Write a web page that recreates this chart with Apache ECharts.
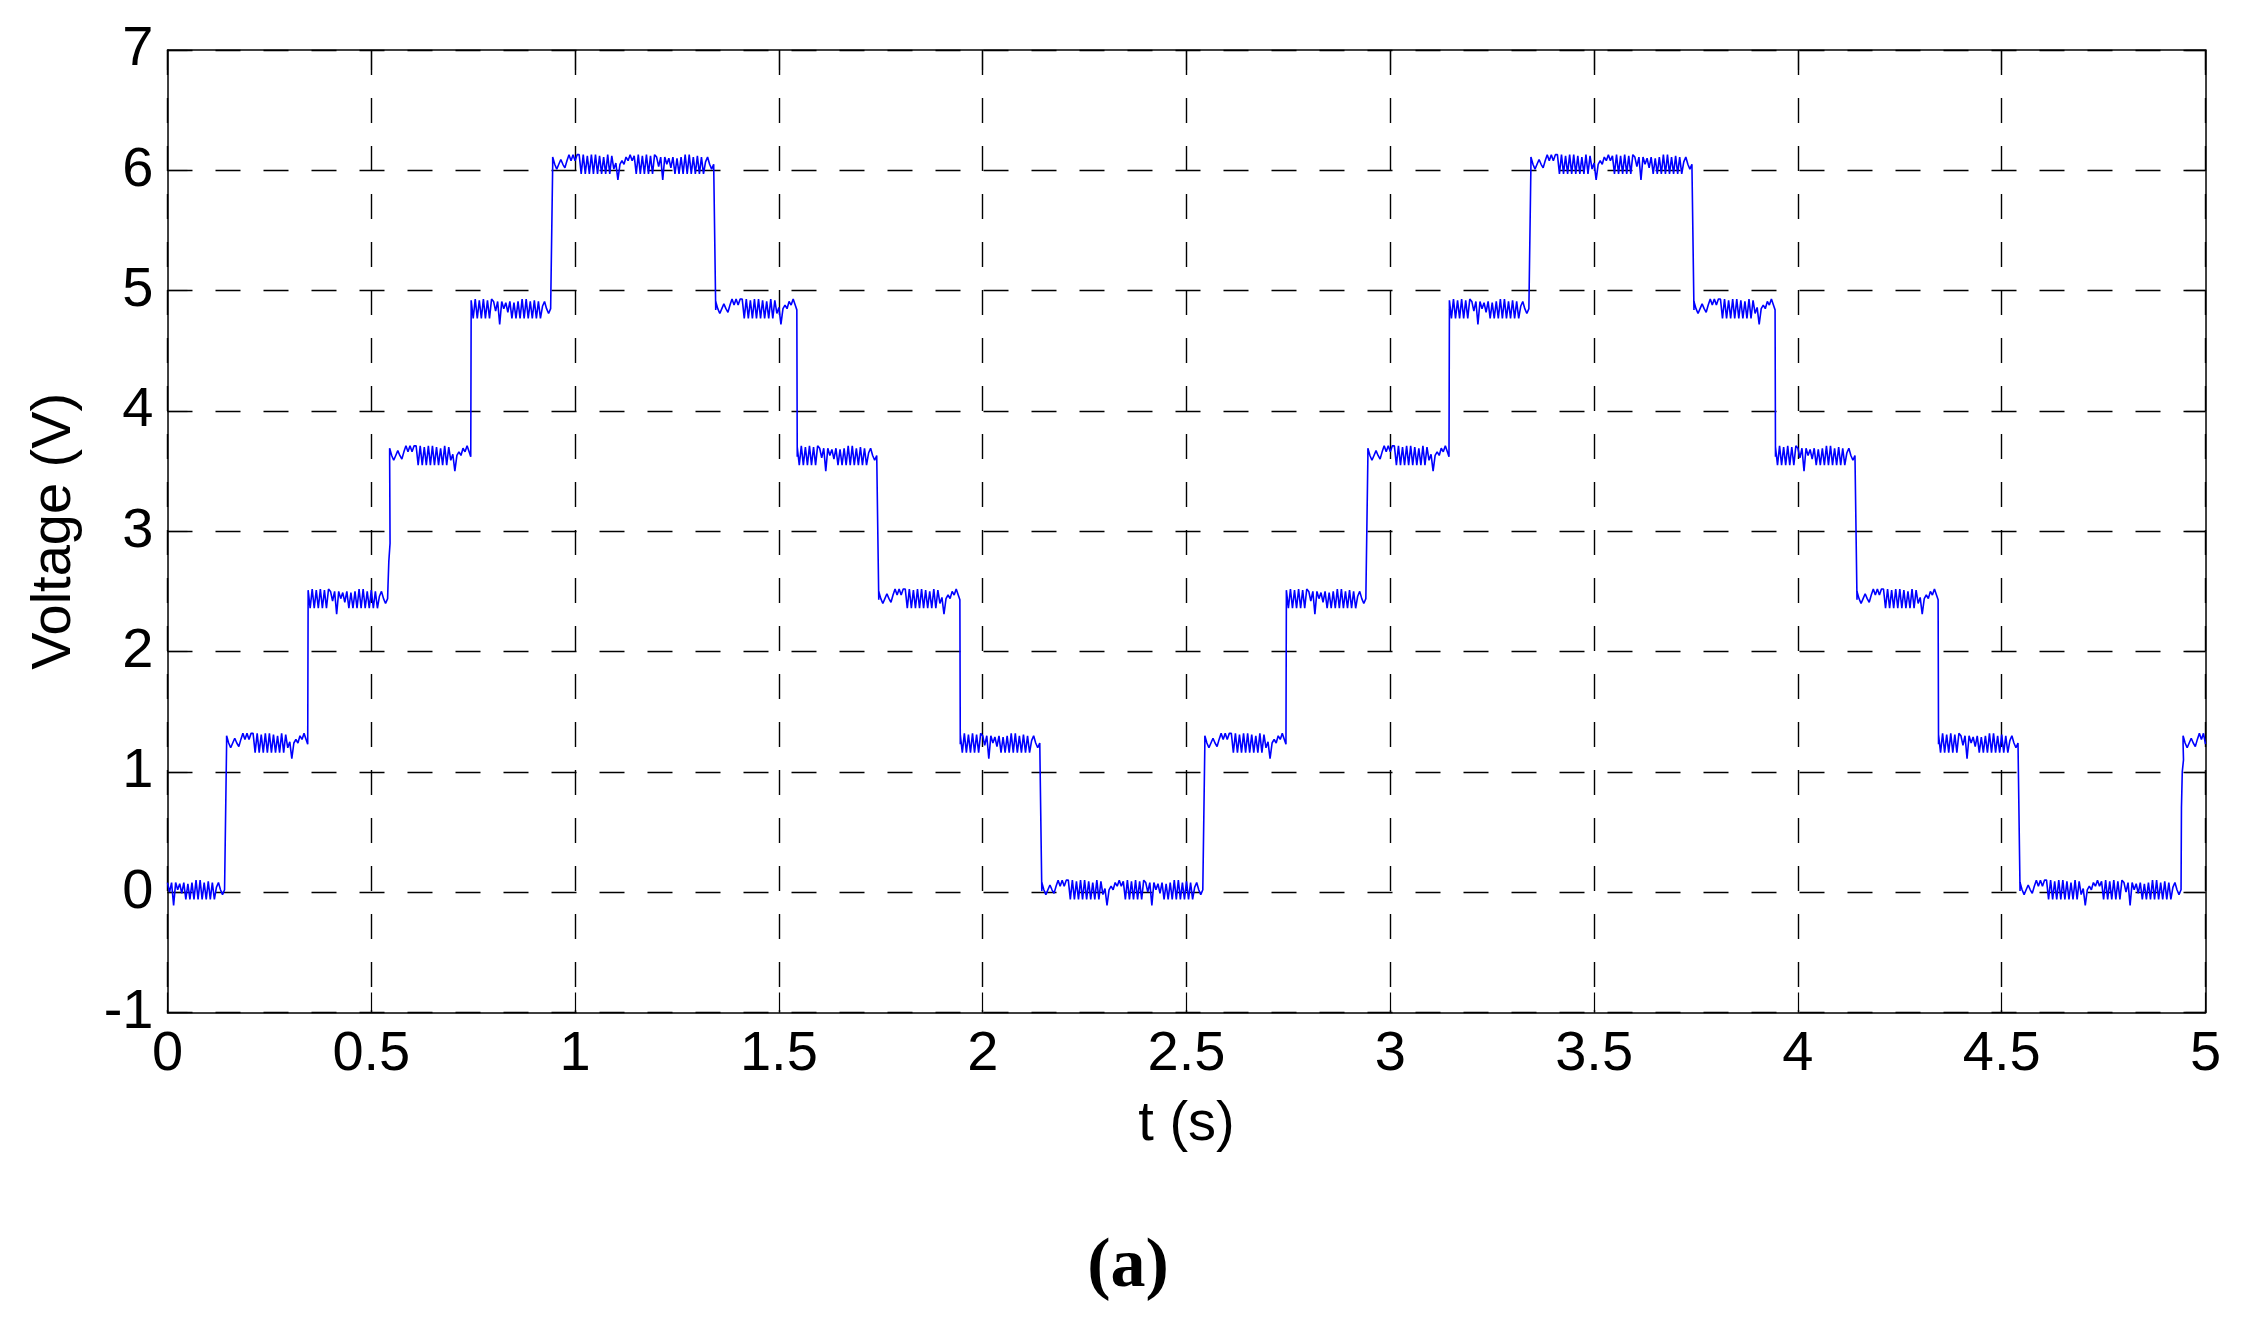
<!DOCTYPE html>
<html>
<head>
<meta charset="utf-8">
<script src="https://cdn.jsdelivr.net/npm/echarts@6/dist/echarts.min.js"></script>
<style>
html,body{margin:0;padding:0;background:#fff;}
#chart{width:2243px;height:1332px;}
</style>
</head>
<body>
<div id="chart"></div>
<script>
// ---- data ----
const xTicks = [0, 0.5, 1, 1.5, 2, 2.5, 3, 3.5, 4, 4.5, 5];
const yTicks = [-1, 0, 1, 2, 3, 4, 5, 6, 7];
// plateau levels (V), in time order
const levels = [0.01, 1.23, 2.43, 3.62, 4.84, 6.04, 4.84, 3.62, 2.43, 1.23, 0.01,
                1.23, 2.43, 3.62, 4.84, 6.04, 4.84, 3.62, 2.43, 1.23, 0.01, 1.23];
// transition times (s) between consecutive plateaus
const stepTimes = [0.145, 0.345, 0.545, 0.745, 0.945, 1.345, 1.545, 1.745, 1.945, 2.145,
                   2.545, 2.745, 2.945, 3.145, 3.345, 3.745, 3.945, 4.145, 4.345, 4.545, 4.945];
// small ramps seen on two rising edges: [transition index, [t, v] points]
const rampEdges = {
  2:  [[0.541, 2.55], [0.543, 2.75], [0.546, 2.90]],
  20: [[4.941, 0.70], [4.943, 1.00], [4.946, 1.10]]
};
const ripple = [7,-1,7,-12,7,1,6,-2,7,-7,6,-7,7,-7,9,-7,9,-7,7,-7,8,-7,7,-7,3,7,1,-3,1,7,
                1,-3,1,5,1,-2,4,9,4,9,4,9,9,-7,9,-7,8,-7,9,-7,9,-7,8,-7,7,-7,9,-7,8,-3,
                2,-12,1,4,1,7,4,9,4,8,-7,9,-7,8,-7,9,-7,8,-7,9];
const sampleDt = 0.005;

// ---- build the series ----
const data = [];
let k = 0;
for (let p = 0; p < levels.length; p++) {
  const t0 = p === 0 ? 0 : stepTimes[p - 1];
  const t1 = p < stepTimes.length ? stepTimes[p] : 5;
  for (let t = t0; t < t1 - 1e-9; t += sampleDt) {
    data.push([t, levels[p] + ripple[k % ripple.length] / 100]);
    k++;
  }
  if (p < stepTimes.length) {
    data.push([t1 - 0.001, levels[p]]);
    if (rampEdges[p]) rampEdges[p].forEach(pt => data.push(pt));
    data.push([t1, levels[p + 1]]);
  } else {
    data.push([5, levels[p]]);
  }
}

const FONT = "'Liberation Sans', Arial, sans-serif";
const axisLineStyle = { color: '#000', width: 1.5 };
const gridDash = { color: '#000', width: 1.4, type: [25, 23] };
const tickStyle = { color: '#000', width: 1.2 };

const chart = echarts.init(document.getElementById('chart'), null, { renderer: 'canvas' });
chart.setOption({
  animation: false,
  backgroundColor: '#fff',
  grid: { left: 167.5, top: 50, right: 37.5, bottom: 319.5, containLabel: false, outerBoundsMode: 'none' },
  xAxis: [{
    type: 'value', min: 0, max: 5, interval: 0.5, position: 'bottom',
    name: 't (s)', nameLocation: 'middle', nameGap: 84,
    nameTextStyle: { fontSize: 56, color: '#000', fontFamily: FONT },
    axisLine: { show: true, onZero: false, lineStyle: axisLineStyle },
    axisTick: { show: true, inside: true, length: 20, lineStyle: tickStyle },
    axisLabel: { show: true, fontSize: 56, color: '#000', fontFamily: FONT, margin: 14,
                 showMinLabel: true, showMaxLabel: true,
                 formatter: v => xTicks.includes(+v.toFixed(2)) ? String(+v.toFixed(2)) : '' },
    splitLine: { show: true, lineStyle: gridDash }
  }, {
    type: 'value', min: 0, max: 5, interval: 0.5, position: 'top',
    axisLine: { show: true, onZero: false, lineStyle: axisLineStyle },
    axisTick: { show: true, inside: true, length: 20, lineStyle: tickStyle },
    axisLabel: { show: false }, splitLine: { show: false }
  }],
  yAxis: [{
    type: 'value', min: -1, max: 7, interval: 1, position: 'left',
    name: 'Voltage (V)', nameLocation: 'middle', nameGap: 85, nameRotate: 90,
    nameTextStyle: { fontSize: 56, color: '#000', fontFamily: FONT },
    axisLine: { show: true, onZero: false, lineStyle: axisLineStyle },
    axisTick: { show: true, inside: true, length: 20, lineStyle: tickStyle },
    axisLabel: { show: true, fontSize: 56, color: '#000', fontFamily: FONT, margin: 14,
                 showMinLabel: true, showMaxLabel: true,
                 formatter: v => yTicks.includes(Math.round(v)) ? String(Math.round(v)) : '' },
    splitLine: { show: true, lineStyle: gridDash }
  }, {
    type: 'value', min: -1, max: 7, interval: 1, position: 'right',
    axisLine: { show: true, onZero: false, lineStyle: axisLineStyle },
    axisTick: { show: true, inside: true, length: 20, lineStyle: tickStyle },
    axisLabel: { show: false }, splitLine: { show: false }
  }],
  series: [{
    type: 'line', xAxisIndex: 0, yAxisIndex: 0,
    data: data, showSymbol: false, symbol: 'none', sampling: null,
    lineStyle: { color: '#0000ff', width: 1.6 },
    clip: true
  }],
  graphic: [{
    type: 'text', x: 1128, y: 1268,
    style: { text: '(a)', font: "bold 70px 'Liberation Serif', 'Times New Roman', serif",
             fill: '#000', textAlign: 'center', textVerticalAlign: 'middle' }
  }]
});
</script>
</body>
</html>
